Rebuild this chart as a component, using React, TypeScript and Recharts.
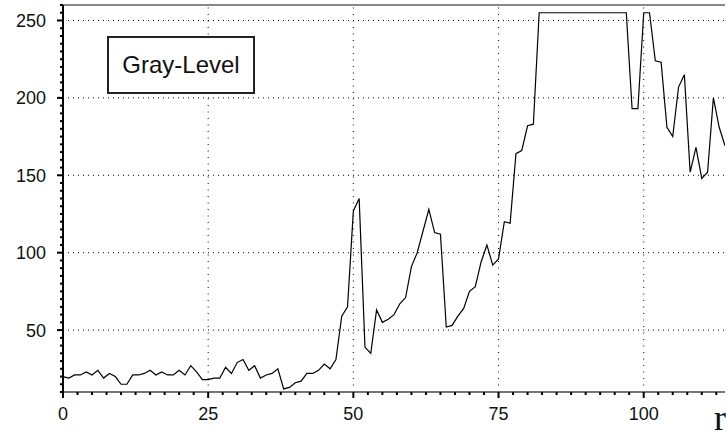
import { LineChart, Line, XAxis, YAxis, ReferenceLine } from "recharts";

// gray level sampled along r (one value per pixel step)
const grayLevel = [
  20, 19, 21, 21, 23, 21, 24, 19, 22, 20,
  15, 15, 21, 21, 22, 24, 21, 23, 21, 21,
  24, 21, 27, 23, 18, 18, 19, 19, 26, 22,
  29, 31, 24, 27, 19, 21, 22, 25, 12, 13,
  16, 17, 22, 22, 24, 28, 25, 31, 59, 65,
  127, 135, 39, 35, 63, 55, 57, 60, 67, 71,
  91, 100, 114, 128, 113, 112, 52, 53, 59, 64,
  75, 78, 94, 105, 92, 96, 120, 119, 164, 166,
  182, 183, 255, 255, 255, 255, 255, 255, 255, 255,
  255, 255, 255, 255, 255, 255, 255, 255, 193, 193,
  255, 255, 224, 223, 181, 175, 207, 215, 152, 168,
  148, 152, 200, 181, 169,
];

const xMajor = [0, 25, 50, 75, 100];
const yMajor = [50, 100, 150, 200, 250];
const xGrid = [25, 50, 75, 100];
const yGrid = [50, 100, 150, 200, 250];

const xMinor = Array.from({ length: 46 }, (_, i) => i * 2.5);
const yMinor = Array.from({ length: 51 }, (_, i) => 10 + i * 5);

const data = grayLevel.map((v, r) => ({ r, v }));

const font = "'Liberation Sans', Arial, sans-serif";

const YTick = (props: any) => {
  const { x, y, payload } = props;
  const major = yMajor.includes(payload.value);
  return (
    <g>
      <line x1={x - (major ? 6 : 3)} x2={x} y1={y} y2={y} stroke="#000" strokeWidth={2} />
      {major && (
        <text x={x - 17} y={y} dy="0.36em" textAnchor="end" fontFamily={font} fontSize={18} fill="#111">
          {payload.value}
        </text>
      )}
    </g>
  );
};

const XTick = (props: any) => {
  const { x, y, payload } = props;
  const major = xMajor.includes(payload.value);
  return (
    <g>
      <line x1={x} x2={x} y1={y} y2={y + (major ? 6 : 3)} stroke="#000" strokeWidth={2} />
      {major && (
        <text x={x} y={y + 28} textAnchor="middle" fontFamily={font} fontSize={18} fill="#111">
          {payload.value}
        </text>
      )}
    </g>
  );
};

export default function App() {
  return (
    <div style={{ position: "absolute", left: 0, top: 0, width: 727, height: 438, background: "#fff" }}>
      <LineChart width={727} height={438} data={data} margin={{ top: 5, right: 2, left: 0, bottom: 0 }}>
        <XAxis
          dataKey="r"
          type="number"
          domain={[0, 114]}
          ticks={xMinor}
          interval={0}
          tickSize={0}
          tickMargin={0}
          tickLine={false}
          tick={<XTick />}
          height={46}
          axisLine={{ stroke: "#777", strokeWidth: 2 }}
          allowDataOverflow
        />
        <YAxis
          type="number"
          domain={[10, 260]}
          ticks={yMinor}
          interval={0}
          tickSize={0}
          tickMargin={0}
          tickLine={false}
          tick={<YTick />}
          width={63}
          axisLine={{ stroke: "#000", strokeWidth: 2 }}
          allowDataOverflow
        />
        {yGrid.map((g) => (
          <ReferenceLine key={"y" + g} y={g} stroke="#000" strokeDasharray="1 4" />
        ))}
        {xGrid.map((g) => (
          <ReferenceLine key={"x" + g} x={g} stroke="#000" strokeDasharray="1 5.5" />
        ))}
        <ReferenceLine y={260} stroke="#888" strokeWidth={2} />
        <Line
          type="linear"
          dataKey="v"
          stroke="#000"
          strokeWidth={1.2}
          dot={false}
          isAnimationActive={false}
        />
      </LineChart>
      <div
        style={{
          position: "absolute",
          left: 107,
          top: 36,
          width: 148,
          height: 58,
          boxSizing: "border-box",
          border: "2px solid #222",
          background: "#fff",
          display: "flex",
          alignItems: "center",
          justifyContent: "center",
          fontFamily: font,
          fontSize: 24,
          color: "#111",
        }}
      >
        Gray-Level
      </div>
      <div
        style={{
          position: "absolute",
          left: 714,
          top: 400,
          fontFamily: "'Liberation Serif', 'Times New Roman', serif",
          fontSize: 36,
          lineHeight: "36px",
          color: "#111",
        }}
      >
        r
      </div>
    </div>
  );
}
